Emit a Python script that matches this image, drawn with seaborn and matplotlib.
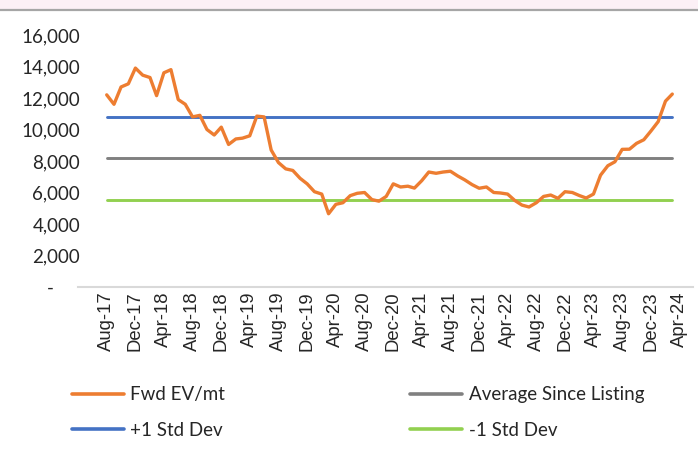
import pandas as pd
import matplotlib.pyplot as plt
import matplotlib.dates as mdates
from matplotlib.patches import Rectangle
from matplotlib.lines import Line2D
from matplotlib.transforms import ScaledTranslation
import seaborn as sns

sns.set_style("white")
plt.rcParams["font.family"] = ["Lato", "DejaVu Sans"]

# monthly forward EV/mt, Aug-17 .. Mar-24
dates = pd.date_range("2017-08-01", periods=80, freq="MS")
fwd_ev = [12200, 11600, 12700, 12900, 13900, 13450, 13300, 12150, 13600, 13800,
          11900, 11600, 10800, 10900, 10000, 9650, 10150, 9050, 9400, 9450,
          9600, 10850, 10800, 8700, 7900, 7500, 7400, 6900, 6550, 6050,
          5900, 4650, 5250, 5350, 5800, 5950, 6000, 5550, 5450, 5750,
          6550, 6350, 6400, 6280, 6750, 7300, 7220, 7300, 7350, 7050,
          6800, 6500, 6270, 6350, 6000, 5970, 5900, 5500, 5200, 5080,
          5350, 5750, 5840, 5630, 6050, 6000, 5800, 5650, 5900, 7100,
          7700, 7950, 8740, 8750, 9120, 9350, 9900, 10500, 11800, 12250]
avg_since_listing = 8170
plus_1sd = 10810
minus_1sd = 5520

tick_dates = pd.date_range("2017-08-01", "2024-04-01", freq="4MS")
y_ticks = list(range(0, 16001, 2000))

df = pd.DataFrame({
    "date": dates,
    "Fwd EV/mt": fwd_ev,
    "Average Since Listing": [avg_since_listing] * len(dates),
    "+1 Std Dev": [plus_1sd] * len(dates),
    "-1 Std Dev": [minus_1sd] * len(dates),
})

W, H = 698, 454
fig = plt.figure(figsize=(W / 100, H / 100), dpi=100)
ax = fig.add_axes([78 / W, 1 - 287 / H, (693 - 78) / W, (287 - 35) / H])

# header strip from the cropped slide
fig.patches.append(Rectangle((0, 1 - 9 / H), 1, 9 / H, transform=fig.transFigure,
                             facecolor="#fcf0f6", edgecolor="none"))
fig.add_artist(Line2D([0, 1], [1 - 10 / H, 1 - 10 / H], transform=fig.transFigure,
                      color="#a6a6a6", linewidth=1.6))

sns.lineplot(data=df, x="date", y="+1 Std Dev", color="#4472c4", linewidth=2.1, ax=ax, label="+1 Std Dev")
sns.lineplot(data=df, x="date", y="Average Since Listing", color="#808080", linewidth=2.1, ax=ax,
             label="Average Since Listing")
sns.lineplot(data=df, x="date", y="-1 Std Dev", color="#92d050", linewidth=2.1, ax=ax, label="-1 Std Dev")
sns.lineplot(data=df, x="date", y="Fwd EV/mt", color="#ed7d31", linewidth=2.4, ax=ax, label="Fwd EV/mt")
for ln in ax.get_lines():
    ln.set_solid_joinstyle("round")
    ln.set_solid_capstyle("round")

ax.set_xlim(pd.Timestamp("2017-04-01"), pd.Timestamp("2024-05-28"))
ax.set_ylim(0, 16000)
ax.set_xlabel("")
ax.set_ylabel("")

ax.set_xticks(tick_dates)
ax.xaxis.set_major_formatter(mdates.DateFormatter("%b-%y"))
ax.set_yticks(y_ticks)
ax.set_yticklabels(["-" if v == 0 else f"{v:,}" for v in y_ticks])

ax.tick_params(axis="x", length=0, pad=3.5, labelsize=13.3, labelrotation=90)
ax.tick_params(axis="y", length=0, pad=-1.5, labelsize=13.5)
for lab in ax.get_xticklabels():
    lab.set_fontfamily(["Liberation Sans", "DejaVu Sans"])
    lab.set_color("#262626")

zero_lab = ax.get_yticklabels()[0]
zero_lab.set_horizontalalignment("center")
zero_lab.set_transform(zero_lab.get_transform() + ScaledTranslation(-30 / 100, 0, fig.dpi_scale_trans))

for s in ["top", "right", "left"]:
    ax.spines[s].set_visible(False)
ax.spines["bottom"].set_color("#d9d9d9")
ax.spines["bottom"].set_linewidth(1.5)
ax.grid(False)

handles, labels = ax.get_legend_handles_labels()
hmap = dict(zip(labels, handles))
ax.get_legend().remove()

leg_kw = dict(frameon=False, fontsize=13.5, handlelength=2.75, handletextpad=0.37,
              labelspacing=1.0, borderpad=0, borderaxespad=0, loc="center left",
              bbox_transform=fig.transFigure)
leg1 = fig.legend([hmap["Fwd EV/mt"], hmap["+1 Std Dev"]], ["Fwd EV/mt", "+1 Std Dev"],
                  bbox_to_anchor=(72 / W, 1 - 412.5 / H), **leg_kw)
leg2 = fig.legend([hmap["Average Since Listing"], hmap["-1 Std Dev"]],
                  ["Average Since Listing", "-1 Std Dev"],
                  bbox_to_anchor=(410 / W, 1 - 412.5 / H), **leg_kw)
for lg in (leg1, leg2):
    for ln in lg.get_lines():
        ln.set_linewidth(2.6)

fig.savefig("out.png", dpi=100)
